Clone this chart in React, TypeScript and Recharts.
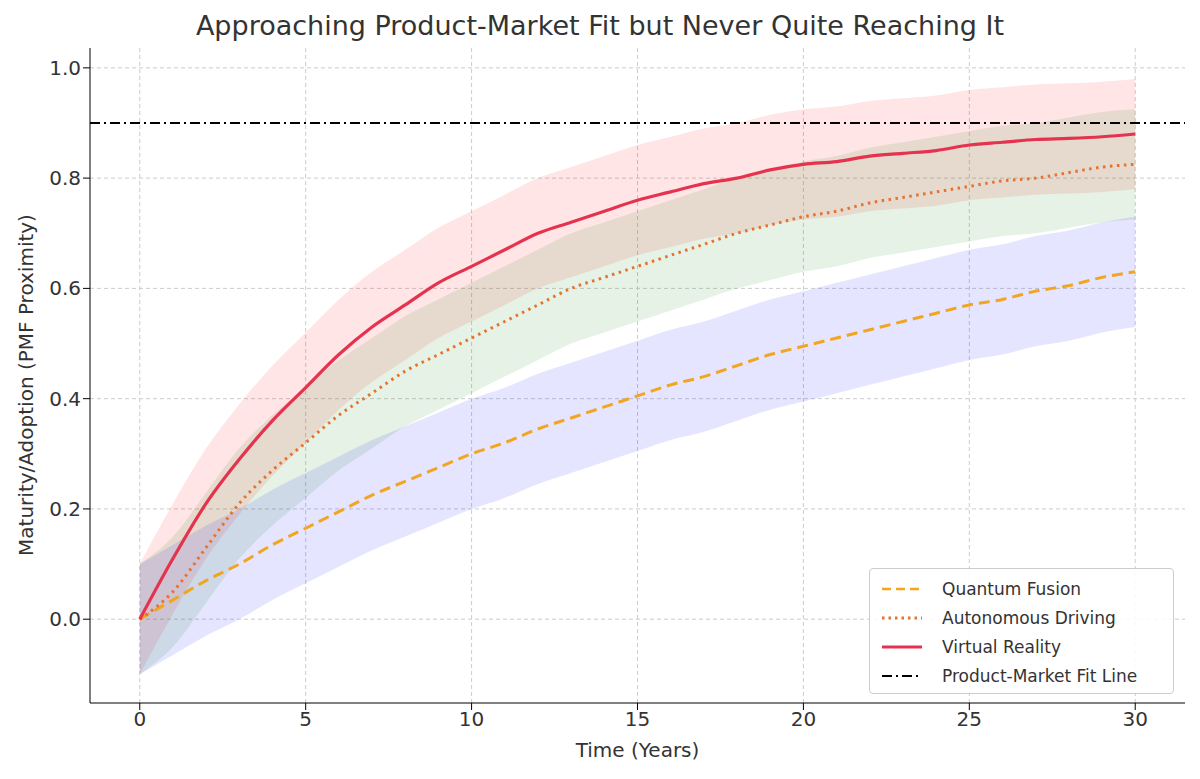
import React from 'react';
import { ComposedChart, Line, Area, XAxis, YAxis, CartesianGrid, ReferenceLine } from 'recharts';

// Years 0..30
const years = Array.from({ length: 31 }, (_, i) => i);

const virtualReality = [
  0, 0.11, 0.21, 0.29, 0.36, 0.42, 0.48, 0.53, 0.57, 0.61, 0.64, 0.67, 0.7, 0.72, 0.74, 0.76,
  0.775, 0.79, 0.8, 0.815, 0.825, 0.83, 0.84, 0.845, 0.85, 0.86, 0.865, 0.87, 0.872, 0.875, 0.88,
];
const autonomousDriving = [
  0, 0.05, 0.13, 0.21, 0.27, 0.32, 0.37, 0.41, 0.45, 0.48, 0.51, 0.54, 0.57, 0.6, 0.62, 0.64,
  0.66, 0.68, 0.7, 0.715, 0.73, 0.74, 0.755, 0.765, 0.775, 0.785, 0.795, 0.8, 0.81, 0.82, 0.825,
];
const quantumFusion = [
  0, 0.035, 0.07, 0.1, 0.135, 0.165, 0.195, 0.225, 0.25, 0.275, 0.3, 0.32, 0.345, 0.365, 0.385, 0.405,
  0.425, 0.44, 0.46, 0.48, 0.495, 0.51, 0.525, 0.54, 0.555, 0.57, 0.58, 0.595, 0.605, 0.62, 0.63,
];
const bandHalfWidth = 0.1;
const pmfLine = 0.9;

const xTicks = [0, 5, 10, 15, 20, 25, 30];
const yTicks = [0, 0.2, 0.4, 0.6, 0.8, 1.0];

const data = years.map((t, i) => ({
  t,
  vr: virtualReality[i],
  ad: autonomousDriving[i],
  qf: quantumFusion[i],
  vrBand: [virtualReality[i] - bandHalfWidth, virtualReality[i] + bandHalfWidth],
  adBand: [autonomousDriving[i] - bandHalfWidth, autonomousDriving[i] + bandHalfWidth],
  qfBand: [quantumFusion[i] - bandHalfWidth, quantumFusion[i] + bandHalfWidth],
}));

const FONT = '"DejaVu Sans", sans-serif';
const TEXT = '#333';
const C_QF = '#f2a51f';
const C_AD = '#e8712b';
const C_VR = '#e5334f';

const legendItems = [
  { label: 'Quantum Fusion', color: C_QF, dash: '9 5', w: 2.5 },
  { label: 'Autonomous Driving', color: C_AD, dash: '2.5 4', w: 3 },
  { label: 'Virtual Reality', color: C_VR, dash: undefined, w: 3 },
  { label: 'Product-Market Fit Line', color: '#000', dash: '10 4 2 4', w: 2 },
];

export default function App() {
  return (
    <div style={{ position: 'absolute', left: 0, top: 0, width: 1200, height: 779, background: '#fff', fontFamily: FONT }}>
      <div style={{ position: 'absolute', top: 10, width: 1200, textAlign: 'center', fontSize: 27, color: TEXT }}>
        Approaching Product-Market Fit but Never Quite Reaching It
      </div>
      <div
        style={{
          position: 'absolute', left: 26, top: 385, fontSize: 20, color: TEXT, whiteSpace: 'nowrap',
          transform: 'translate(-50%, -50%) rotate(-90deg)',
        }}
      >
        Maturity/Adoption (PMF Proximity)
      </div>
      <div style={{ position: 'absolute', top: 738, width: 1275, textAlign: 'center', fontSize: 20, color: TEXT }}>
        Time (Years)
      </div>
      <ComposedChart width={1200} height={779} data={data} margin={{ top: 48, right: 15, left: 0, bottom: 0 }}>
        <CartesianGrid stroke="#ccc" strokeDasharray="4 3" horizontalValues={yTicks} verticalValues={xTicks} />
        <XAxis
          type="number" dataKey="t" domain={[-1.5, 31.5]} ticks={xTicks} height={76}
          tick={{ fontSize: 20, fill: TEXT, fontFamily: FONT }} stroke="#000" tickSize={7}
          tickLine={{ stroke: '#000' }} allowDataOverflow
        />
        <YAxis
          type="number" domain={[-0.152, 1.036]} ticks={yTicks} width={90}
          tickFormatter={(v: number) => v.toFixed(1)}
          tick={{ fontSize: 20, fill: TEXT, fontFamily: FONT }} stroke="#000" tickSize={7}
          tickLine={{ stroke: '#000' }} allowDataOverflow
        />
        <Area type="monotone" dataKey="vrBand" stroke="none" fill="#ff0000" fillOpacity={0.1} isAnimationActive={false} />
        <Area type="monotone" dataKey="adBand" stroke="none" fill="#008000" fillOpacity={0.1} isAnimationActive={false} />
        <Area type="monotone" dataKey="qfBand" stroke="none" fill="#0000ff" fillOpacity={0.1} isAnimationActive={false} />
        <ReferenceLine y={pmfLine} stroke="#000" strokeWidth={2} strokeDasharray="10 4 2 4" />
        <Line type="monotone" dataKey="qf" stroke={C_QF} strokeWidth={3} strokeDasharray="11 6" dot={false} isAnimationActive={false} />
        <Line type="monotone" dataKey="ad" stroke={C_AD} strokeWidth={3} strokeDasharray="2.5 4.5" dot={false} isAnimationActive={false} />
        <Line type="monotone" dataKey="vr" stroke={C_VR} strokeWidth={3.2} dot={false} isAnimationActive={false} />
      </ComposedChart>
      <div
        style={{
          position: 'absolute', left: 869, top: 568, width: 305, height: 126, boxSizing: 'border-box',
          border: '1px solid #ccc', borderRadius: 4, background: 'rgba(255,255,255,0.85)', padding: '5px 10px',
        }}
      >
        {legendItems.map((it) => (
          <div key={it.label} style={{ display: 'flex', alignItems: 'center', height: 29 }}>
            <svg width={44} height={10} style={{ marginRight: 18 }}>
              <line x1={2} y1={5} x2={42} y2={5} stroke={it.color} strokeWidth={it.w} strokeDasharray={it.dash} />
            </svg>
            <span style={{ fontSize: 17, color: TEXT }}>{it.label}</span>
          </div>
        ))}
      </div>
    </div>
  );
}
